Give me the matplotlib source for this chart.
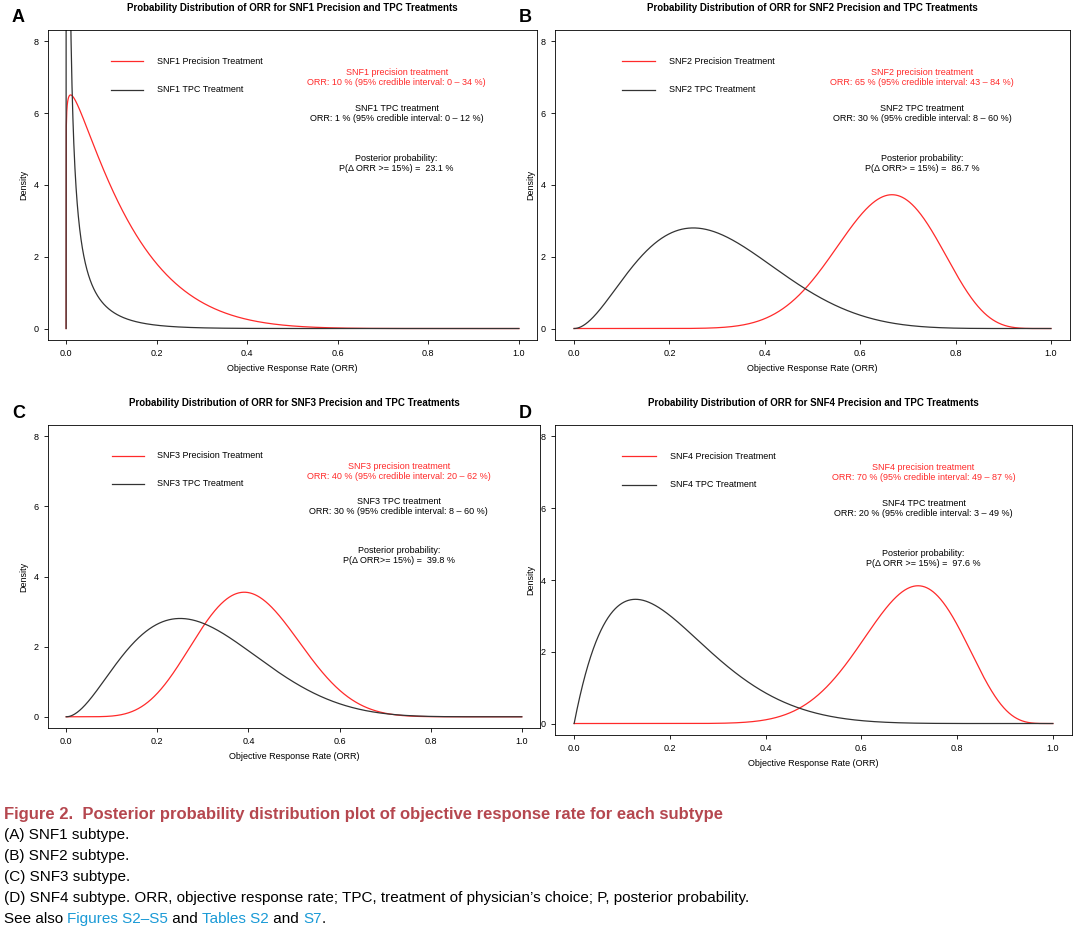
import numpy as np
import matplotlib.pyplot as plt
from math import lgamma

plt.rcParams['font.family'] = ['Liberation Sans', 'DejaVu Sans']

# Beta posterior parameters (alpha, beta) per subtype
panels = ["A", "B", "C", "D"]
subtypes = ["SNF1", "SNF2", "SNF3", "SNF4"]
prec_params = [(1.07, 8.0), (13.0, 7.0), (7.8, 11.6), (13.5, 5.9)]
tpc_params = [(0.12, 10.0), (3.0, 7.0), (3.0, 7.0), (2.0, 7.8)]
prec_orr = ["10 % (95% credible interval: 0 \u2013 34 %)", "65 % (95% credible interval: 43 \u2013 84 %)",
            "40 % (95% credible interval: 20 \u2013 62 %)", "70 % (95% credible interval: 49 \u2013 87 %)"]
tpc_orr = ["1 % (95% credible interval: 0 \u2013 12 %)", "30 % (95% credible interval: 8 \u2013 60 %)",
           "30 % (95% credible interval: 8 \u2013 60 %)", "20 % (95% credible interval: 3 \u2013 49 %)"]
post_prob = ["P(\u0394 ORR >= 15%) =  23.1 %", "P(\u0394 ORR> = 15%) =  86.7 %",
             "P(\u0394 ORR>= 15%) =  39.8 %", "P(\u0394 ORR >= 15%) =  97.6 %"]
ax_boxes = [(48, 30, 537, 340), (555, 30, 1070, 340), (48, 425, 540, 728), (555, 425, 1072, 735)]

x = np.linspace(0.0005, 0.9995, 2000)


def beta_pdf(x, a, b):
    return np.exp((a - 1) * np.log(x) + (b - 1) * np.log(1 - x) + lgamma(a + b) - lgamma(a) - lgamma(b))


W, H = 1080, 933
fig = plt.figure(figsize=(10.8, 9.33), dpi=100)
for i in range(4):
    l, t, r, b = ax_boxes[i]
    ax = fig.add_axes([l / W, 1 - b / H, (r - l) / W, (b - t) / H])
    yp = beta_pdf(x, *prec_params[i])
    yt = beta_pdf(x, *tpc_params[i])
    ax.plot(np.r_[0, x, 1], np.r_[0, yp, 0], color='#ff2a2a', lw=0.9)
    ax.plot(np.r_[0, x, 1], np.r_[0, yt, 0], color='#333333', lw=0.9)
    ax.set_xlim(-0.04, 1.04)
    ax.set_ylim(-0.32, 8.32)
    ax.set_xticks([0, 0.2, 0.4, 0.6, 0.8, 1.0])
    ax.set_xticklabels(["0.0", "0.2", "0.4", "0.6", "0.8", "1.0"])
    ax.set_yticks([0, 2, 4, 6, 8])
    ax.tick_params(labelsize=6.5, length=3, width=0.6)
    for s in ax.spines.values():
        s.set_linewidth(0.6)
    ax.set_xlabel("Objective Response Rate (ORR)", fontsize=6.5)
    ax.set_ylabel("Density", fontsize=6.5)
    ax.set_title(f"Probability Distribution of ORR for {subtypes[i]} Precision and TPC Treatments",
                 fontsize=7, fontweight='bold', pad=14)
    ax.plot([0.1, 0.17], [7.45, 7.45], color='#ff2a2a', lw=0.9)
    ax.plot([0.1, 0.17], [6.65, 6.65], color='#333333', lw=0.9)
    ax.text(0.2, 7.45, f"{subtypes[i]} Precision Treatment", fontsize=6.5, va='center')
    ax.text(0.2, 6.65, f"{subtypes[i]} TPC Treatment", fontsize=6.5, va='center')
    ax.text(0.73, 7.0, f"{subtypes[i]} precision treatment\nORR: {prec_orr[i]}", color='#ff2a2a',
            fontsize=6.5, ha='center', va='center', linespacing=1.1)
    ax.text(0.73, 6.0, f"{subtypes[i]} TPC treatment\nORR: {tpc_orr[i]}",
            fontsize=6.5, ha='center', va='center', linespacing=1.1)
    ax.text(0.73, 4.6, f"Posterior probability:\n{post_prob[i]}",
            fontsize=6.5, ha='center', va='center', linespacing=1.1)
    fig.text((l - 36) / W, 1 - (t - 12) / H, panels[i], fontsize=13, fontweight='bold', va='center')

fig.text(4 / W, 1 - 815 / H, "Figure 2.  Posterior probability distribution plot of objective response rate for each subtype",
         color='#b5474f', fontsize=12, fontweight='bold', va='center')
cap = ["(A) SNF1 subtype.", "(B) SNF2 subtype.", "(C) SNF3 subtype.",
       "(D) SNF4 subtype. ORR, objective response rate; TPC, treatment of physician\u2019s choice; P, posterior probability."]
for j, c in enumerate(cap):
    fig.text(4 / W, 1 - (835 + 21 * j) / H, c, fontsize=11, va='center')
yl = 1 - 919 / H
parts = [("See also ", 'black'), ("Figures S2\u2013S5", '#1a9ad6'), (" and ", 'black'),
         ("Tables S2", '#1a9ad6'), (" and ", 'black'), ("S7", '#1a9ad6'), (".", 'black')]
fig.canvas.draw()
xpos = 4 / W
rend = fig.canvas.get_renderer()
for s, c in parts:
    tt = fig.text(xpos, yl, s, fontsize=11, color=c, va='center')
    bb = tt.get_window_extent(rend)
    xpos += bb.width / W
fig.savefig("out.png", dpi=100)
